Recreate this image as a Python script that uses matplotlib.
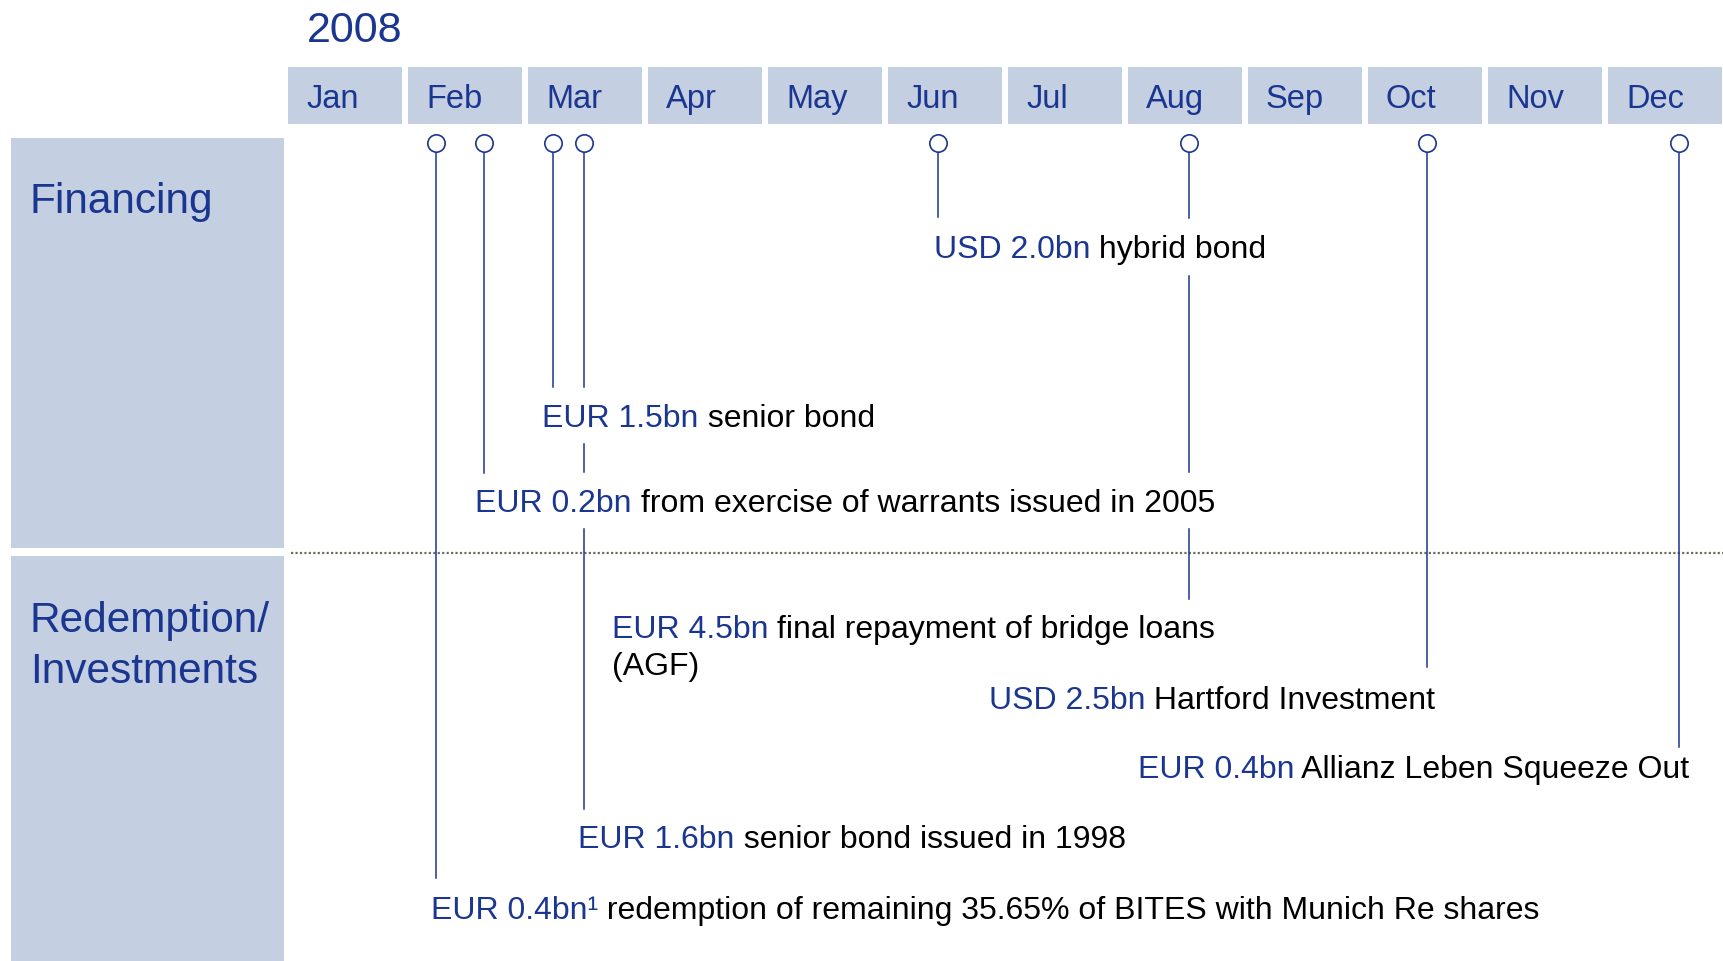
import matplotlib.pyplot as plt
from matplotlib.patches import Rectangle

plt.rcParams['font.family'] = ['Liberation Sans', 'DejaVu Sans']

blue = '#1a3690'
box_col = '#c5cfe2'

year = "2008"
months = ["Jan", "Feb", "Mar", "Apr", "May", "Jun",
          "Jul", "Aug", "Sep", "Oct", "Nov", "Dec"]
panels = [["Financing"], ["Redemption/", "Investments"]]

# event dates as month index (0 = start of Jan)
event_dates = [1.23, 1.63, 2.21, 2.465, 5.415, 7.505, 9.49, 11.59]

# text rows, top to bottom
row_amount = ["USD 2.0bn", "EUR 1.5bn", "EUR 0.2bn", "EUR 4.5bn",
              "USD 2.5bn", "EUR 0.4bn", "EUR 1.6bn", "EUR 0.4bn\u00b9"]
row_desc = [" hybrid bond",
            " senior bond",
            " from exercise of warrants issued in 2005",
            " final repayment of bridge loans",
            " Hartford Investment",
            " Allianz Leben Squeeze Out",
            " senior bond issued in 1998",
            " redemption of remaining 35.65% of BITES with Munich Re shares"]
row_extra = {3: "(AGF)"}

# which row each event points to, and rows its line passes behind
event_row = [7, 2, 1, 6, 0, 3, 4, 5]
event_cross = [[], [], [], [1, 2], [], [0, 2], [], []]

# layout (x in months, y in pixels from the top)
row_x = [5.38, 2.12, 1.56, 2.70, 5.84, 7.08, 2.42, 1.19]
row_base = [258, 426.7, 511.7, 637.7, 709, 777.7, 847.7, 919.3]
line_end_gap = [41, 39, 40, 39, 41, 39, 42, 31]

fig = plt.figure(figsize=(17.24, 9.61), dpi=100)
ax = fig.add_axes([0, 0, 1, 1])
ax.set_xlim(-2.4, 11.967)
ax.set_ylim(961, 0)
ax.axis('off')

px = 1 / 120.0  # month units per pixel

# year and month header
ax.text(20 * px - 0.01, 42.3, year, color=blue, fontsize=31, va='baseline')
for i, m in enumerate(months):
    ax.add_patch(Rectangle((i, 67), 0.95, 57, color=box_col, lw=0))
    ax.text(i + 0.15, 108.3, m, color=blue, fontsize=23.5, va='baseline')

# side panels
ax.add_patch(Rectangle((-2.308, 138), 2.275, 410, color=box_col, lw=0))
ax.add_patch(Rectangle((-2.308, 556), 2.275, 420, color=box_col, lw=0))
panel_base = [[213], [631.7, 683]]
for lines, bases in zip(panels, panel_base):
    for s, b in zip(lines, bases):
        ax.text(-2.15, b, s, color=blue, fontsize=30.5, va='baseline')

# separator
ax.plot([0.025, 11.967], [553, 553], color='#6e6e60', lw=1.6,
        linestyle=(0, (1, 1)), dash_capstyle='butt')

# event labels
for i in range(len(row_amount)):
    t = ax.text(row_x[i], row_base[i], row_amount[i], color=blue,
                fontsize=23, va='baseline')
    ax.annotate(row_desc[i], xy=(1, 0), xycoords=t, va='bottom', ha='left',
                color='black', fontsize=23)
    if i in row_extra:
        ax.text(row_x[i], row_base[i] + 37, row_extra[i], color='black',
                fontsize=23, va='baseline')

# event lines and markers
circle_y = 142.7
for d, r, cross, g in zip(event_dates, event_row, event_cross, line_end_gap):
    y0 = circle_y + 9.5
    for c in sorted(cross):
        ax.plot([d, d], [y0, row_base[c] - 40], color=blue, lw=1.1)
        y0 = row_base[c] + 17.5
    ax.plot([d, d], [y0, row_base[r] - g], color=blue, lw=1.1)
    ax.plot(d, circle_y, 'o', ms=12.5, mfc='white', mec=blue, mew=1.2)

fig.savefig('out.png', dpi=100)
